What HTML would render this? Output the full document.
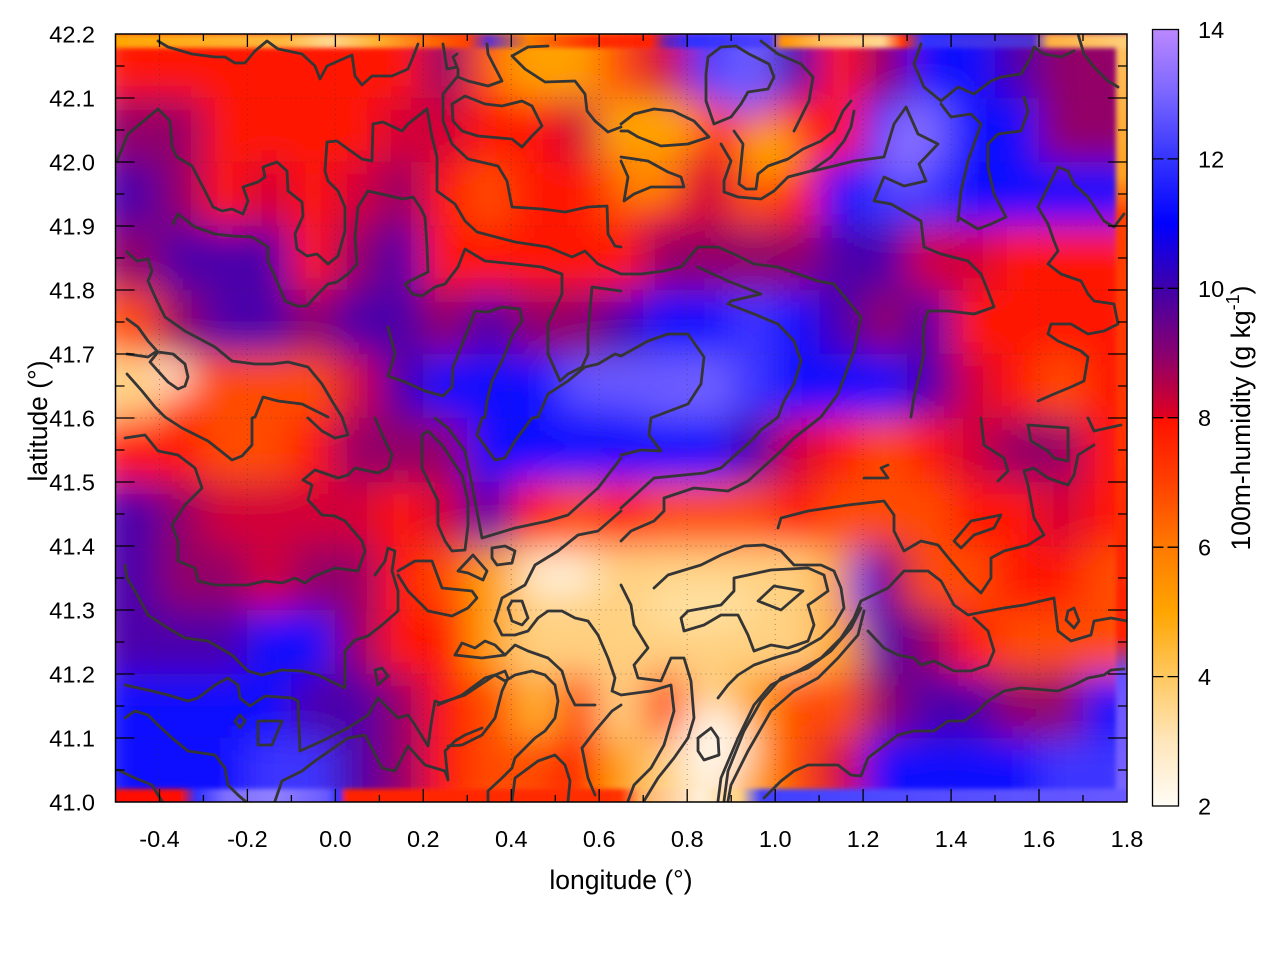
<!DOCTYPE html>
<html><head><meta charset="utf-8"><style>
html,body{margin:0;padding:0;background:#fff;}
svg{display:block;font-family:"Liberation Sans",Arial,sans-serif;}
.W{fill:#fff0d8}.L{fill:#ffd080}.O{fill:#ffa000}.T{fill:#ff4c00}.R{fill:#ff1200}.C{fill:#d20038}.M{fill:#920068}.P{fill:#4c00aa}.B{fill:#0c08ff}.V{fill:#3c36ff}.U{fill:#7060ff}
.ct polyline,.ct polygon{fill:none;stroke:#353535;stroke-width:2.8;stroke-linejoin:round;stroke-linecap:round}
.tk{font-size:23.5px;fill:#000}
.lb{font-size:26.5px;fill:#000}
</style></head><body>
<svg width="1280" height="960" viewBox="0 0 1280 960" xmlns="http://www.w3.org/2000/svg">
<defs>
<filter id="bl" x="-5%" y="-5%" width="110%" height="110%"><feGaussianBlur stdDeviation="18"/></filter>
<filter id="bl2" x="-5%" y="-50%" width="110%" height="200%"><feGaussianBlur stdDeviation="2.5"/></filter>
<clipPath id="cp"><rect x="115.5" y="34" width="1011.5" height="768"/></clipPath>
<linearGradient id="cb" x1="0" y1="0" x2="0" y2="1">
<stop offset="0" stop-color="#bb88ff"/><stop offset="0.0833" stop-color="#7a66ff"/><stop offset="0.1667" stop-color="#3434ff"/><stop offset="0.25" stop-color="#0000ff"/><stop offset="0.3333" stop-color="#4000aa"/><stop offset="0.4167" stop-color="#880070"/><stop offset="0.499" stop-color="#e00020"/><stop offset="0.5" stop-color="#ff1000"/><stop offset="0.5833" stop-color="#ff4000"/><stop offset="0.6667" stop-color="#ff7a00"/><stop offset="0.75" stop-color="#ffa500"/><stop offset="0.8333" stop-color="#ffc860"/><stop offset="0.9167" stop-color="#ffe6bb"/><stop offset="1" stop-color="#fffcf6"/>
</linearGradient>
<linearGradient id="tops" x1="0" y1="0" x2="1" y2="0">
<stop offset="0" stop-color="#ffa500"/><stop offset="0.173" stop-color="#ffb840"/><stop offset="0.213" stop-color="#ffd890"/><stop offset="0.262" stop-color="#ffb030"/><stop offset="0.321" stop-color="#ff6000"/><stop offset="0.35" stop-color="#ff4000"/><stop offset="0.37" stop-color="#6030d0"/><stop offset="0.41" stop-color="#ff8000"/><stop offset="0.47" stop-color="#ff3000"/><stop offset="0.529" stop-color="#ff2000"/><stop offset="0.544" stop-color="#7020b0"/><stop offset="0.568" stop-color="#3030ff"/><stop offset="0.647" stop-color="#5040ff"/><stop offset="0.657" stop-color="#ff9000"/><stop offset="0.697" stop-color="#ffc060"/><stop offset="0.756" stop-color="#ffd890"/><stop offset="0.776" stop-color="#ff3000"/><stop offset="0.796" stop-color="#3030ff"/><stop offset="0.904" stop-color="#5030d0"/><stop offset="0.919" stop-color="#ffb040"/><stop offset="1" stop-color="#ffd080"/>
</linearGradient>
<linearGradient id="rights" x1="0" y1="0" x2="0" y2="1">
<stop offset="0" stop-color="#ffc060"/><stop offset="0.17" stop-color="#ffa020"/><stop offset="0.22" stop-color="#ff4000"/><stop offset="0.55" stop-color="#ff3000"/><stop offset="0.78" stop-color="#ff2000"/><stop offset="0.83" stop-color="#6a50ff"/><stop offset="1" stop-color="#7a66ff"/>
</linearGradient>
<linearGradient id="bots" x1="0" y1="0" x2="1" y2="0">
<stop offset="0" stop-color="#ff1000"/><stop offset="0.069" stop-color="#ff1000"/><stop offset="0.084" stop-color="#3030ff"/><stop offset="0.114" stop-color="#8070ff"/><stop offset="0.163" stop-color="#9080ff"/><stop offset="0.212" stop-color="#6a5aff"/><stop offset="0.225" stop-color="#2a2aff"/><stop offset="0.23" stop-color="#ff2000"/><stop offset="0.499" stop-color="#ff3000"/><stop offset="0.519" stop-color="#ffb060"/><stop offset="0.578" stop-color="#fff0d8"/><stop offset="0.617" stop-color="#ffd080"/><stop offset="0.637" stop-color="#4040ff"/><stop offset="1" stop-color="#6a5aff"/>
</linearGradient>
</defs>

<g clip-path="url(#cp)">
<g filter="url(#bl)">
<!-- r0 -->
<rect class="R" x="95" y="14" width="65" height="85"/><rect class="R" x="159" y="14" width="45" height="85"/><rect class="R" x="203" y="14" width="45" height="85"/><rect class="R" x="247" y="14" width="45" height="85"/><rect class="R" x="291" y="14" width="45" height="85"/><rect class="R" x="335" y="14" width="45" height="85"/><rect class="R" x="379" y="14" width="45" height="85"/><rect class="M" x="423" y="14" width="45" height="85"/><rect class="T" x="467" y="14" width="45" height="85"/><rect class="O" x="511" y="14" width="45" height="85"/><rect class="O" x="555" y="14" width="45" height="85"/><rect class="T" x="599" y="14" width="45" height="85"/><rect class="C" x="643" y="14" width="45" height="85"/><rect class="V" x="687" y="14" width="45" height="85"/><rect class="U" x="731" y="14" width="45" height="85"/><rect class="P" x="775" y="14" width="45" height="85"/><rect class="R" x="819" y="14" width="45" height="85"/><rect class="M" x="863" y="14" width="45" height="85"/><rect class="B" x="907" y="14" width="45" height="85"/><rect class="B" x="951" y="14" width="45" height="85"/><rect class="P" x="995" y="14" width="45" height="85"/><rect class="M" x="1039" y="14" width="45" height="85"/><rect class="M" x="1083" y="14" width="65" height="85"/>
<!-- r1 -->
<rect class="M" x="95" y="98" width="65" height="65"/><rect class="M" x="159" y="98" width="45" height="65"/><rect class="R" x="203" y="98" width="45" height="65"/><rect class="R" x="247" y="98" width="45" height="65"/><rect class="R" x="291" y="98" width="45" height="65"/><rect class="R" x="335" y="98" width="45" height="65"/><rect class="C" x="379" y="98" width="45" height="65"/><rect class="C" x="423" y="98" width="45" height="65"/><rect class="R" x="467" y="98" width="45" height="65"/><rect class="R" x="511" y="98" width="45" height="65"/><rect class="C" x="555" y="98" width="45" height="65"/><rect class="O" x="599" y="98" width="45" height="65"/><rect class="O" x="643" y="98" width="45" height="65"/><rect class="R" x="687" y="98" width="45" height="65"/><rect class="T" x="731" y="98" width="45" height="65"/><rect class="R" x="775" y="98" width="45" height="65"/><rect class="R" x="819" y="98" width="45" height="65"/><rect class="B" x="863" y="98" width="45" height="65"/><rect class="U" x="907" y="98" width="45" height="65"/><rect class="B" x="951" y="98" width="45" height="65"/><rect class="B" x="995" y="98" width="45" height="65"/><rect class="M" x="1039" y="98" width="45" height="65"/><rect class="M" x="1083" y="98" width="65" height="65"/>
<!-- r2 -->
<rect class="P" x="95" y="162" width="65" height="65"/><rect class="M" x="159" y="162" width="45" height="65"/><rect class="R" x="203" y="162" width="45" height="65"/><rect class="C" x="247" y="162" width="45" height="65"/><rect class="R" x="291" y="162" width="45" height="65"/><rect class="C" x="335" y="162" width="45" height="65"/><rect class="M" x="379" y="162" width="45" height="65"/><rect class="R" x="423" y="162" width="45" height="65"/><rect class="T" x="467" y="162" width="45" height="65"/><rect class="R" x="511" y="162" width="45" height="65"/><rect class="R" x="555" y="162" width="45" height="65"/><rect class="T" x="599" y="162" width="45" height="65"/><rect class="R" x="643" y="162" width="45" height="65"/><rect class="C" x="687" y="162" width="45" height="65"/><rect class="T" x="731" y="162" width="45" height="65"/><rect class="R" x="775" y="162" width="45" height="65"/><rect class="B" x="819" y="162" width="45" height="65"/><rect class="V" x="863" y="162" width="45" height="65"/><rect class="V" x="907" y="162" width="45" height="65"/><rect class="B" x="951" y="162" width="45" height="65"/><rect class="B" x="995" y="162" width="45" height="65"/><rect class="B" x="1039" y="162" width="45" height="65"/><rect class="B" x="1083" y="162" width="65" height="65"/>
<!-- r3 -->
<rect class="M" x="95" y="226" width="65" height="65"/><rect class="P" x="159" y="226" width="45" height="65"/><rect class="P" x="203" y="226" width="45" height="65"/><rect class="P" x="247" y="226" width="45" height="65"/><rect class="R" x="291" y="226" width="45" height="65"/><rect class="M" x="335" y="226" width="45" height="65"/><rect class="P" x="379" y="226" width="45" height="65"/><rect class="R" x="423" y="226" width="45" height="65"/><rect class="R" x="467" y="226" width="45" height="65"/><rect class="R" x="511" y="226" width="45" height="65"/><rect class="R" x="555" y="226" width="45" height="65"/><rect class="R" x="599" y="226" width="45" height="65"/><rect class="M" x="643" y="226" width="45" height="65"/><rect class="M" x="687" y="226" width="45" height="65"/><rect class="M" x="731" y="226" width="45" height="65"/><rect class="M" x="775" y="226" width="45" height="65"/><rect class="P" x="819" y="226" width="45" height="65"/><rect class="P" x="863" y="226" width="45" height="65"/><rect class="C" x="907" y="226" width="45" height="65"/><rect class="C" x="951" y="226" width="45" height="65"/><rect class="R" x="995" y="226" width="45" height="65"/><rect class="R" x="1039" y="226" width="45" height="65"/><rect class="R" x="1083" y="226" width="65" height="65"/>
<!-- r4 -->
<rect class="T" x="95" y="290" width="65" height="65"/><rect class="M" x="159" y="290" width="45" height="65"/><rect class="P" x="203" y="290" width="45" height="65"/><rect class="P" x="247" y="290" width="45" height="65"/><rect class="M" x="291" y="290" width="45" height="65"/><rect class="P" x="335" y="290" width="45" height="65"/><rect class="P" x="379" y="290" width="45" height="65"/><rect class="M" x="423" y="290" width="45" height="65"/><rect class="P" x="467" y="290" width="45" height="65"/><rect class="M" x="511" y="290" width="45" height="65"/><rect class="M" x="555" y="290" width="45" height="65"/><rect class="P" x="599" y="290" width="45" height="65"/><rect class="B" x="643" y="290" width="45" height="65"/><rect class="B" x="687" y="290" width="45" height="65"/><rect class="V" x="731" y="290" width="45" height="65"/><rect class="B" x="775" y="290" width="45" height="65"/><rect class="P" x="819" y="290" width="45" height="65"/><rect class="M" x="863" y="290" width="45" height="65"/><rect class="P" x="907" y="290" width="45" height="65"/><rect class="R" x="951" y="290" width="45" height="65"/><rect class="R" x="995" y="290" width="45" height="65"/><rect class="R" x="1039" y="290" width="45" height="65"/><rect class="R" x="1083" y="290" width="65" height="65"/>
<!-- r5 -->
<rect class="L" x="95" y="354" width="65" height="65"/><rect class="T" x="159" y="354" width="45" height="65"/><rect class="T" x="203" y="354" width="45" height="65"/><rect class="T" x="247" y="354" width="45" height="65"/><rect class="T" x="291" y="354" width="45" height="65"/><rect class="C" x="335" y="354" width="45" height="65"/><rect class="P" x="379" y="354" width="45" height="65"/><rect class="B" x="423" y="354" width="45" height="65"/><rect class="B" x="467" y="354" width="45" height="65"/><rect class="B" x="511" y="354" width="45" height="65"/><rect class="V" x="555" y="354" width="45" height="65"/><rect class="V" x="599" y="354" width="45" height="65"/><rect class="U" x="643" y="354" width="45" height="65"/><rect class="U" x="687" y="354" width="45" height="65"/><rect class="V" x="731" y="354" width="45" height="65"/><rect class="B" x="775" y="354" width="45" height="65"/><rect class="B" x="819" y="354" width="45" height="65"/><rect class="B" x="863" y="354" width="45" height="65"/><rect class="P" x="907" y="354" width="45" height="65"/><rect class="C" x="951" y="354" width="45" height="65"/><rect class="R" x="995" y="354" width="45" height="65"/><rect class="T" x="1039" y="354" width="45" height="65"/><rect class="R" x="1083" y="354" width="65" height="65"/>
<!-- r6 -->
<rect class="R" x="95" y="418" width="65" height="65"/><rect class="R" x="159" y="418" width="45" height="65"/><rect class="T" x="203" y="418" width="45" height="65"/><rect class="T" x="247" y="418" width="45" height="65"/><rect class="R" x="291" y="418" width="45" height="65"/><rect class="M" x="335" y="418" width="45" height="65"/><rect class="M" x="379" y="418" width="45" height="65"/><rect class="M" x="423" y="418" width="45" height="65"/><rect class="B" x="467" y="418" width="45" height="65"/><rect class="B" x="511" y="418" width="45" height="65"/><rect class="B" x="555" y="418" width="45" height="65"/><rect class="B" x="599" y="418" width="45" height="65"/><rect class="B" x="643" y="418" width="45" height="65"/><rect class="B" x="687" y="418" width="45" height="65"/><rect class="P" x="731" y="418" width="45" height="65"/><rect class="C" x="775" y="418" width="45" height="65"/><rect class="R" x="819" y="418" width="45" height="65"/><rect class="T" x="863" y="418" width="45" height="65"/><rect class="R" x="907" y="418" width="45" height="65"/><rect class="C" x="951" y="418" width="45" height="65"/><rect class="M" x="995" y="418" width="45" height="65"/><rect class="M" x="1039" y="418" width="45" height="65"/><rect class="R" x="1083" y="418" width="65" height="65"/>
<!-- r7 -->
<rect class="P" x="95" y="482" width="65" height="65"/><rect class="M" x="159" y="482" width="45" height="65"/><rect class="C" x="203" y="482" width="45" height="65"/><rect class="C" x="247" y="482" width="45" height="65"/><rect class="C" x="291" y="482" width="45" height="65"/><rect class="C" x="335" y="482" width="45" height="65"/><rect class="R" x="379" y="482" width="45" height="65"/><rect class="C" x="423" y="482" width="45" height="65"/><rect class="P" x="467" y="482" width="45" height="65"/><rect class="R" x="511" y="482" width="45" height="65"/><rect class="T" x="555" y="482" width="45" height="65"/><rect class="R" x="599" y="482" width="45" height="65"/><rect class="T" x="643" y="482" width="45" height="65"/><rect class="T" x="687" y="482" width="45" height="65"/><rect class="T" x="731" y="482" width="45" height="65"/><rect class="R" x="775" y="482" width="45" height="65"/><rect class="T" x="819" y="482" width="45" height="65"/><rect class="T" x="863" y="482" width="45" height="65"/><rect class="T" x="907" y="482" width="45" height="65"/><rect class="R" x="951" y="482" width="45" height="65"/><rect class="R" x="995" y="482" width="45" height="65"/><rect class="C" x="1039" y="482" width="45" height="65"/><rect class="R" x="1083" y="482" width="65" height="65"/>
<!-- r8 -->
<rect class="P" x="95" y="546" width="65" height="65"/><rect class="M" x="159" y="546" width="45" height="65"/><rect class="M" x="203" y="546" width="45" height="65"/><rect class="C" x="247" y="546" width="45" height="65"/><rect class="M" x="291" y="546" width="45" height="65"/><rect class="M" x="335" y="546" width="45" height="65"/><rect class="R" x="379" y="546" width="45" height="65"/><rect class="T" x="423" y="546" width="45" height="65"/><rect class="O" x="467" y="546" width="45" height="65"/><rect class="L" x="511" y="546" width="45" height="65"/><rect class="L" x="555" y="546" width="45" height="65"/><rect class="L" x="599" y="546" width="45" height="65"/><rect class="L" x="643" y="546" width="45" height="65"/><rect class="L" x="687" y="546" width="45" height="65"/><rect class="L" x="731" y="546" width="45" height="65"/><rect class="L" x="775" y="546" width="45" height="65"/><rect class="O" x="819" y="546" width="45" height="65"/><rect class="M" x="863" y="546" width="45" height="65"/><rect class="T" x="907" y="546" width="45" height="65"/><rect class="T" x="951" y="546" width="45" height="65"/><rect class="R" x="995" y="546" width="45" height="65"/><rect class="R" x="1039" y="546" width="45" height="65"/><rect class="T" x="1083" y="546" width="65" height="65"/>
<!-- r9 -->
<rect class="P" x="95" y="610" width="65" height="65"/><rect class="P" x="159" y="610" width="45" height="65"/><rect class="P" x="203" y="610" width="45" height="65"/><rect class="B" x="247" y="610" width="45" height="65"/><rect class="B" x="291" y="610" width="45" height="65"/><rect class="M" x="335" y="610" width="45" height="65"/><rect class="R" x="379" y="610" width="45" height="65"/><rect class="R" x="423" y="610" width="45" height="65"/><rect class="O" x="467" y="610" width="45" height="65"/><rect class="L" x="511" y="610" width="45" height="65"/><rect class="L" x="555" y="610" width="45" height="65"/><rect class="L" x="599" y="610" width="45" height="65"/><rect class="L" x="643" y="610" width="45" height="65"/><rect class="L" x="687" y="610" width="45" height="65"/><rect class="L" x="731" y="610" width="45" height="65"/><rect class="L" x="775" y="610" width="45" height="65"/><rect class="O" x="819" y="610" width="45" height="65"/><rect class="P" x="863" y="610" width="45" height="65"/><rect class="M" x="907" y="610" width="45" height="65"/><rect class="R" x="951" y="610" width="45" height="65"/><rect class="T" x="995" y="610" width="45" height="65"/><rect class="T" x="1039" y="610" width="45" height="65"/><rect class="T" x="1083" y="610" width="65" height="65"/>
<!-- r10 -->
<rect class="B" x="95" y="674" width="65" height="65"/><rect class="B" x="159" y="674" width="45" height="65"/><rect class="B" x="203" y="674" width="45" height="65"/><rect class="B" x="247" y="674" width="45" height="65"/><rect class="P" x="291" y="674" width="45" height="65"/><rect class="P" x="335" y="674" width="45" height="65"/><rect class="M" x="379" y="674" width="45" height="65"/><rect class="R" x="423" y="674" width="45" height="65"/><rect class="T" x="467" y="674" width="45" height="65"/><rect class="O" x="511" y="674" width="45" height="65"/><rect class="T" x="555" y="674" width="45" height="65"/><rect class="L" x="599" y="674" width="45" height="65"/><rect class="T" x="643" y="674" width="45" height="65"/><rect class="L" x="687" y="674" width="45" height="65"/><rect class="O" x="731" y="674" width="45" height="65"/><rect class="T" x="775" y="674" width="45" height="65"/><rect class="T" x="819" y="674" width="45" height="65"/><rect class="M" x="863" y="674" width="45" height="65"/><rect class="P" x="907" y="674" width="45" height="65"/><rect class="P" x="951" y="674" width="45" height="65"/><rect class="M" x="995" y="674" width="45" height="65"/><rect class="M" x="1039" y="674" width="45" height="65"/><rect class="B" x="1083" y="674" width="65" height="65"/>
<!-- r11 -->
<rect class="B" x="95" y="738" width="65" height="85"/><rect class="B" x="159" y="738" width="45" height="85"/><rect class="B" x="203" y="738" width="45" height="85"/><rect class="V" x="247" y="738" width="45" height="85"/><rect class="V" x="291" y="738" width="45" height="85"/><rect class="P" x="335" y="738" width="45" height="85"/><rect class="M" x="379" y="738" width="45" height="85"/><rect class="R" x="423" y="738" width="45" height="85"/><rect class="T" x="467" y="738" width="45" height="85"/><rect class="T" x="511" y="738" width="45" height="85"/><rect class="R" x="555" y="738" width="45" height="85"/><rect class="O" x="599" y="738" width="45" height="85"/><rect class="L" x="643" y="738" width="45" height="85"/><rect class="W" x="687" y="738" width="45" height="85"/><rect class="O" x="731" y="738" width="45" height="85"/><rect class="T" x="775" y="738" width="45" height="85"/><rect class="C" x="819" y="738" width="45" height="85"/><rect class="B" x="863" y="738" width="45" height="85"/><rect class="B" x="907" y="738" width="45" height="85"/><rect class="B" x="951" y="738" width="45" height="85"/><rect class="B" x="995" y="738" width="45" height="85"/><rect class="V" x="1039" y="738" width="45" height="85"/><rect class="V" x="1083" y="738" width="65" height="85"/>
<!-- feature blobs -->
<ellipse cx="172" cy="376" rx="22" ry="16" fill="#fff0d8"/>
<ellipse cx="905" cy="145" rx="22" ry="40" fill="#8a70ff"/>
<ellipse cx="745" cy="85" rx="35" ry="30" fill="#6a5aff"/>
<ellipse cx="665" cy="128" rx="42" ry="15" fill="#ffa500"/>
<ellipse cx="770" cy="150" rx="28" ry="30" fill="#ffa500"/>
<ellipse cx="650" cy="185" rx="30" ry="14" fill="#ffa000"/>
<ellipse cx="540" cy="65" rx="45" ry="22" fill="#ffa000"/>
<ellipse cx="715" cy="745" rx="35" ry="40" fill="#fff6e8"/>
<ellipse cx="560" cy="575" rx="40" ry="22" fill="#fff0d8"/>
<ellipse cx="700" cy="605" rx="60" ry="25" fill="#ffe0a0"/>
<ellipse cx="862" cy="585" rx="12" ry="40" fill="#1010ff"/>
<ellipse cx="630" cy="380" rx="70" ry="25" fill="#6a5aff"/>
<ellipse cx="540" cy="708" rx="20" ry="32" fill="#ffb030"/>
</g>
<g filter="url(#bl2)">
<rect x="110" y="34" width="1022" height="14" fill="url(#tops)"/>
<rect x="1116" y="48" width="14" height="754" fill="url(#rights)"/>
<rect x="110" y="789" width="1022" height="16" fill="url(#bots)"/>
</g>
<!-- grid -->
<path d="M159.5 34V802M247.4 34V802M335.4 34V802M423.3 34V802M511.3 34V802M599.2 34V802M687.2 34V802M775.2 34V802M863.1 34V802M951.1 34V802M1039 34V802M115.5 98H1127M115.5 162H1127M115.5 226H1127M115.5 290H1127M115.5 354H1127M115.5 418H1127M115.5 482H1127M115.5 546H1127M115.5 610H1127M115.5 674H1127M115.5 738H1127" stroke="#333" stroke-width="1" stroke-dasharray="1 4" opacity="0.45" fill="none"/>
<!-- contours -->
<g class="ct">
<polyline points="158,41 168,47 192,54 215,57 225,57 235,63 245,63 255,51 267,41 278,49 288,51 302,54 315,66 320,79 327,66 352,55 355,76 362,85 372,76 392,76 408,69 413,57 418,44"/>
<polyline points="117,161 128,134 158,109 170,121 172,147 177,157 192,166 205,191 213,207 222,211 232,209 243,214 248,201 243,187 258,182 265,177 263,167 277,162 287,171 288,191 302,202 303,216 295,234 297,249 307,256 317,254 328,264 338,256 345,231 345,207 338,191 328,181 325,171 327,142 337,141 348,149 362,159 372,161 373,124 383,122 402,131 408,124 427,109 432,137 437,157 437,191 455,204 465,221 477,232 515,242 548,247 572,257 585,251 598,264 621,274 641,274 664,271 681,267 698,247 718,247 734,254 754,264 778,267 798,274 818,281 834,284 848,301 861,317 854,351 848,367 838,394 821,417 794,438 781,451 748,481 728,491 694,488 664,498 664,511 654,521 631,531 621,541"/>
<polyline points="173,224 178,214 195,227 215,234 232,236 252,237 268,247 268,261 278,284 285,301 297,306 307,306 315,297 328,284 337,282 348,274 357,264 355,237 358,207 368,191 403,199 413,197 420,207 425,217 427,247 428,272 408,282 405,284 412,294 422,296 435,287 445,284 458,267 465,249 485,261 515,264 542,267 562,274 562,294 548,324 548,354 560,381 568,374 582,367 588,354 588,334 592,287 621,291"/>
<polyline points="127,252 137,261 148,259 152,271 148,281 157,301 165,317 185,331 215,347 232,361 255,364 272,364 288,362 308,367 322,384 332,401 342,417 348,435 335,438 322,431 308,418"/>
<polyline points="127,319 138,327 148,341 157,351 148,357 127,354"/>
<polygon points="150,362 158,352 173,354 185,364 188,377 185,386 178,389 168,382 158,371"/>
<polyline points="127,374 142,391 155,407 165,417 182,428 208,441 232,460 242,456 252,445 252,418 255,417 263,397 278,401 302,404 322,414 328,417"/>
<polyline points="388,327 395,354 388,376 405,382 425,391 443,396 452,387 453,367 465,337 475,311 488,312 502,307 520,309 522,321 513,334 502,361 492,381 487,401 485,417 482,418 477,435 495,460 505,458 515,441 532,418 538,417 548,394 568,381 585,367 598,364 615,354 621,356 648,341 668,334 688,334 704,357 701,384 688,404 651,418 649,435 661,451 641,450 621,455"/>
<polygon points="452,104 465,96 485,104 502,106 522,101 532,106 542,126 532,136 522,147 512,139 478,136 462,131 453,121"/>
<polyline points="443,44 447,69 457,67 453,57 457,54"/>
<polyline points="457,77 443,94 443,121 452,144 468,159 498,166 507,181 512,207 542,209 565,212 588,207 607,206 608,234 615,246 621,247"/>
<polyline points="458,69 458,77 468,81 488,86 502,81 488,54 487,44"/>
<polyline points="548,46 528,47 512,56 525,69 545,82 575,81 585,94 587,111 595,121 608,132 621,127"/>
<polyline points="621,124 634,114 654,109 673,111 694,121 709,137 688,144 661,146 638,137 628,131 621,131"/>
<polyline points="621,161 628,177 624,201 634,194 651,187 684,187 681,177 668,172 648,161 621,157"/>
<polyline points="734,131 743,144 739,184 746,189 756,189 758,174 768,166 788,159 803,149 821,141 834,131 843,111 851,101"/>
<polyline points="721,144 731,161 724,181 724,192 738,197 761,199 774,191 788,177 811,171 831,157 844,141 851,127 854,111"/>
<polygon points="708,57 721,47 736,46 749,54 769,64 774,77 768,89 748,92 741,104 731,117 714,124 706,101 706,74"/>
<polyline points="761,41 778,54 801,64 813,77 809,101 801,117 794,131"/>
<polyline points="921,44 914,64 924,87 941,101 958,87 974,94 991,81 1001,77 1021,74 1031,57 1034,47 1044,54 1061,57 1074,51"/>
<polyline points="1078,34 1084,54 1094,67 1108,81 1118,87"/>
<polyline points="813,171 834,166 854,161 884,157 894,124 906,107 918,134 938,144 919,164 926,181 904,186 884,177 874,201 891,204 921,221 924,247 941,254 968,261 981,274 988,291 994,307 974,314 948,311 928,311 924,324 923,341 924,354 918,381 914,397 911,417"/>
<polyline points="698,267 728,281 761,294 731,301 728,304 754,314 778,324 794,341 801,361 794,384 784,401 778,417 761,430 751,441 721,468 704,473 654,478 621,508"/>
<polyline points="958,221 961,191 968,161 981,124 971,114 951,117 941,104"/>
<polyline points="958,217 978,229 991,224 1006,217 994,194 988,167 988,144 998,134 1021,131 1028,111 1024,97"/>
<polyline points="1048,187 1038,207 1048,224 1054,241 1058,251 1048,264 1061,274 1081,281 1088,294 1094,301 1114,304 1118,324 1104,331 1088,334 1071,324 1051,324 1048,334 1058,341 1081,351 1088,357 1084,381 1071,387 1054,394 1038,401"/>
<polyline points="1048,187 1058,167 1068,171 1074,184 1088,197 1104,221 1114,227 1124,214"/>
<polyline points="125,438 145,435 158,451 178,455 195,468 202,488 185,505 172,525 178,541 178,561 195,568 198,581 215,585 248,585 265,581 282,583 295,578 305,583 315,576 335,568 358,571 365,551 362,541 345,521 335,516 322,515 308,500 312,485 303,480 315,470 338,478 348,475 355,468 378,473 388,468 392,455 385,441 375,418"/>
<polyline points="125,565 127,578 135,591 148,615 168,628 185,638 208,641 232,655 248,671 262,675 282,670 302,671 318,675 345,688 345,651 355,640 368,636 382,625 398,611 398,591 392,571 395,551 388,548 385,561 375,575"/>
<polyline points="125,685 152,691 168,695 188,701 198,698 215,685 228,678 238,685 240,698 250,706 265,696 292,698 298,701 300,751 322,741 348,728 368,715 378,698 385,705 398,718 408,715 415,725 428,746 432,718 435,701 440,703 465,695 495,675 505,671 508,678 502,691 495,718 482,735 462,745 448,746"/>
<polyline points="125,718 135,711 148,715 158,725 172,738 188,751 215,755 225,768 228,785 238,795 245,801"/>
<polyline points="118,770 135,778 152,785 158,795 162,801"/>
<polyline points="275,801 282,781 302,771 315,761 348,738 365,735 382,768 395,771 408,746 425,765 445,771 448,780 445,751 455,741 465,735 482,728"/>
<polygon points="235,721 240,715 245,721 240,728"/>
<polygon points="258,721 282,721 272,745 258,745"/>
<polygon points="375,670 382,668 388,676 378,685"/>
<polygon points="422,435 428,431 442,445 462,475 468,501 468,525 465,550 452,551 445,541 438,525 438,501 422,468"/>
<polyline points="435,418 448,428 465,451 472,485 482,538 515,528 548,521 568,515 598,488 621,458"/>
<polyline points="398,571 415,561 432,561 442,588 472,591 477,598 468,608 452,616 428,611 408,591 398,575"/>
<polygon points="458,571 473,555 487,571 483,580 468,573"/>
<polygon points="492,548 505,546 515,551 512,563 497,565 492,558"/>
<polyline points="495,621 502,598 525,585 535,565 558,551 578,535 598,531 621,511"/>
<polyline points="495,621 502,635 515,635 528,631 538,618 548,611 562,611 575,618 588,621 598,635 608,658 615,678 612,691 621,695 651,691 671,685 674,711 664,745 651,768 634,785 628,801"/>
<polygon points="508,608 512,601 522,601 528,618 522,625 512,621"/>
<polyline points="455,655 462,643 475,648 485,641 495,645 505,655 515,645 528,651 548,658 562,671 568,691 575,705 595,705"/>
<polyline points="455,655 482,658 505,655"/>
<polyline points="438,705 462,695 485,678 495,675 505,681 515,675 532,671 545,675 555,685 558,701 555,718 545,731 535,738 515,758 512,768 502,778 488,791 488,801"/>
<polyline points="512,801 515,778 538,761 555,755 565,765 570,781 568,801"/>
<polyline points="582,748 595,731 612,711 621,705"/>
<polyline points="582,748 588,778 595,795"/>
<polyline points="621,585 631,605 634,625 648,648 634,665 638,678 661,681 671,658 684,658 691,681 694,718 688,738 674,758 658,778 644,801"/>
<polyline points="654,588 668,575 701,565 721,555 744,546 764,545 781,551 794,565 821,565 834,571 841,588 844,608 834,625 821,638 798,651 774,658 754,665 738,675 728,685 718,698"/>
<polygon points="734,578 748,575 771,570 808,568 824,575 828,591 814,601 808,605 814,625 808,641 788,648 771,645 754,651 748,635 738,615 721,615 704,625 684,631 681,618 688,611 721,605 734,591"/>
<polygon points="758,601 774,586 803,591 781,610"/>
<polygon points="698,738 711,728 718,738 719,755 704,760 698,751"/>
<polyline points="861,601 854,618 841,638 821,658 798,671 771,685 754,705 738,738 721,778 718,801"/>
<polyline points="861,608 851,628 831,651 808,668 781,678 761,701 744,731 728,771 724,801"/>
<polyline points="864,611 858,635 838,658 818,678 794,691 771,711 748,751 731,785 728,801"/>
<polyline points="861,601 888,588 904,571 928,571 941,581 954,605 968,615 988,611 1004,608 1024,605 1054,598 1058,631 1071,641 1091,635 1094,621 1111,618 1127,621"/>
<polyline points="868,631 884,648 898,655 914,658 921,665 934,661 954,671 971,671 988,665 994,651 988,631 974,618"/>
<polyline points="778,528 781,518 808,511 848,505 884,501 894,515 894,531 904,551 921,541 938,545 951,561 968,581 981,593 991,578 991,558 1004,551 1028,545 1044,535 1034,518 1028,485 1024,471 1034,468 1048,478 1068,485 1074,475 1078,455 1094,445"/>
<polyline points="764,798 781,781 794,771 808,765 838,765 851,775 861,776 868,758 881,748 898,735 914,731 934,731 948,721 964,721 978,711 988,701 1004,691 1021,688 1058,691 1074,685 1088,678 1104,675 1111,670 1124,669"/>
<polygon points="1028,425 1068,428 1068,461 1054,458 1048,451 1031,441"/>
<polyline points="981,418 984,445 1004,458 1008,471 998,481"/>
<polyline points="1088,418 1094,431 1121,425"/>
<polygon points="1068,611 1074,608 1079,621 1074,628 1066,620"/>
<polygon points="954,541 971,521 1001,515 994,528 974,535 961,548"/>
<polyline points="864,478 888,478 881,468 888,465"/>
</g>
</g>

<!-- frame -->
<rect x="115.5" y="34" width="1011.5" height="768" fill="none" stroke="#000" stroke-width="1.5"/>
<!-- ticks -->
<path fill="none" stroke="#000" stroke-width="1.3" d="
M159.5 802V789M247.4 802V789M335.4 802V789M423.3 802V789M511.3 802V789M599.2 802V789M687.2 802V789M775.2 802V789M863.1 802V789M951.1 802V789M1039 802V789
M203.4 802V795M291.4 802V795M379.4 802V795M467.3 802V795M555.3 802V795M643.2 802V795M731.2 802V795M819.1 802V795M907.1 802V795M995 802V795M1083 802V795
M159.5 34V47M247.4 34V47M335.4 34V47M423.3 34V47M511.3 34V47M599.2 34V47M687.2 34V47M775.2 34V47M863.1 34V47M951.1 34V47M1039 34V47
M203.4 34V41M291.4 34V41M379.4 34V41M467.3 34V41M555.3 34V41M643.2 34V41M731.2 34V41M819.1 34V41M907.1 34V41M995 34V41M1083 34V41
M115.5 98H134.5M115.5 162H134.5M115.5 226H134.5M115.5 290H134.5M115.5 354H134.5M115.5 418H134.5M115.5 482H134.5M115.5 546H134.5M115.5 610H134.5M115.5 674H134.5M115.5 738H134.5
M115.5 66H124.5M115.5 130H124.5M115.5 194H124.5M115.5 258H124.5M115.5 322H124.5M115.5 386H124.5M115.5 450H124.5M115.5 514H124.5M115.5 578H124.5M115.5 642H124.5M115.5 706H124.5M115.5 770H124.5
M1127 98H1108M1127 162H1108M1127 226H1108M1127 290H1108M1127 354H1108M1127 418H1108M1127 482H1108M1127 546H1108M1127 610H1108M1127 674H1108M1127 738H1108
M1127 66H1118M1127 130H1118M1127 194H1118M1127 258H1118M1127 322H1118M1127 386H1118M1127 450H1118M1127 514H1118M1127 578H1118M1127 642H1118M1127 706H1118M1127 770H1118"/>

<!-- y tick labels -->
<g class="tk" text-anchor="end">
<text x="95" y="42.5">42.2</text><text x="95" y="106.5">42.1</text><text x="95" y="170.5">42.0</text><text x="95" y="234.5">41.9</text><text x="95" y="298.5">41.8</text><text x="95" y="362.5">41.7</text><text x="95" y="426.5">41.6</text><text x="95" y="490.5">41.5</text><text x="95" y="554.5">41.4</text><text x="95" y="618.5">41.3</text><text x="95" y="682.5">41.2</text><text x="95" y="746.5">41.1</text><text x="95" y="810.5">41.0</text>
</g>
<!-- x tick labels -->
<g class="tk" text-anchor="middle">
<text x="159.5" y="847">-0.4</text><text x="247.4" y="847">-0.2</text><text x="335.4" y="847">0.0</text><text x="423.3" y="847">0.2</text><text x="511.3" y="847">0.4</text><text x="599.2" y="847">0.6</text><text x="687.2" y="847">0.8</text><text x="775.2" y="847">1.0</text><text x="863.1" y="847">1.2</text><text x="951.1" y="847">1.4</text><text x="1039" y="847">1.6</text><text x="1127" y="847">1.8</text>
</g>
<!-- axis labels -->
<text class="lb" x="621" y="889" text-anchor="middle">longitude (°)</text>
<text class="lb" transform="translate(47,421) rotate(-90)" text-anchor="middle">latitude (°)</text>

<!-- colorbar -->
<rect x="1152.5" y="29.5" width="26" height="776.5" fill="url(#cb)" stroke="#000" stroke-width="1.3"/>
<path fill="none" stroke="#000" stroke-width="1.3" d="M1152.5 676.6H1163.5M1178.5 676.6H1167.5M1152.5 547.2H1163.5M1178.5 547.2H1167.5M1152.5 417.7H1163.5M1178.5 417.7H1167.5M1152.5 288.3H1163.5M1178.5 288.3H1167.5M1152.5 158.9H1163.5M1178.5 158.9H1167.5"/>
<g class="tk">
<text x="1198" y="38">14</text><text x="1198" y="167.4">12</text><text x="1198" y="296.8">10</text><text x="1198" y="426.2">8</text><text x="1198" y="555.7">6</text><text x="1198" y="685.1">4</text><text x="1198" y="814.5">2</text>
</g>
<text class="lb" transform="translate(1250,418) rotate(-90)" text-anchor="middle">100m-humidity (g kg<tspan font-size="18" dy="-11">-1</tspan><tspan dy="11">)</tspan></text>
</svg>
</body></html>
